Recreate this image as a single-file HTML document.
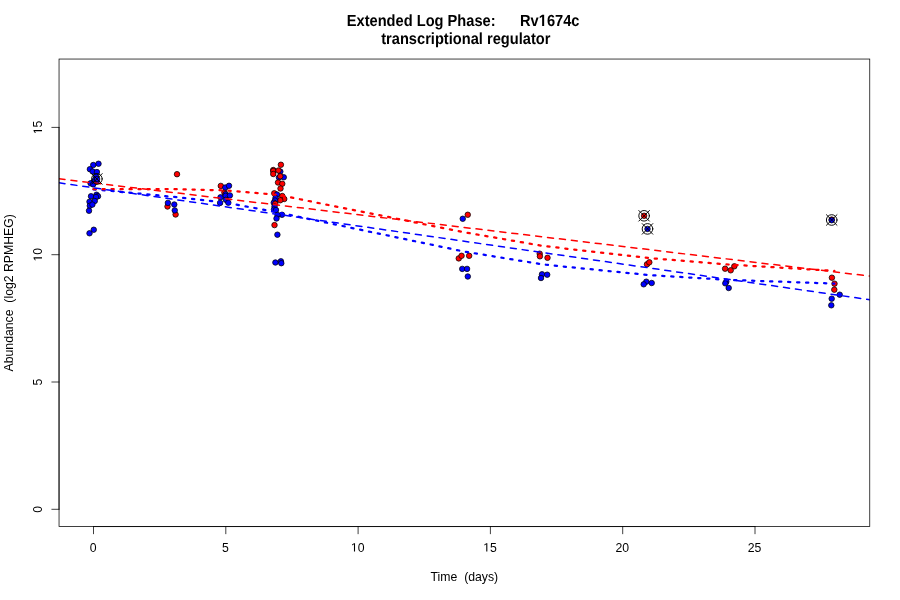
<!DOCTYPE html>
<html><head><meta charset="utf-8"><title>Rv1674c</title>
<style>html,body{margin:0;padding:0;background:#fff;}svg{display:block;will-change:transform;}text{font-family:"Liberation Sans",sans-serif;fill:#000;}</style></head><body>
<svg width="900" height="600" viewBox="0 0 900 600">
<rect x="0" y="0" width="900" height="600" fill="#fff"/>
<defs><clipPath id="pr"><rect x="59.04" y="59.04" width="810.72" height="467.52"/></clipPath></defs>
<g clip-path="url(#pr)" stroke="#000" stroke-width="0.75">
<circle cx="98.5" cy="163.75" r="2.75" fill="#0000ff"/>
<circle cx="93.25" cy="165" r="2.75" fill="#0000ff"/>
<circle cx="89.9" cy="169.2" r="2.75" fill="#0000ff"/>
<circle cx="92.7" cy="171.5" r="2.75" fill="#0000ff"/>
<circle cx="96.9" cy="172.1" r="2.75" fill="#0000ff"/>
<circle cx="96" cy="176.6" r="2.75" fill="#0000ff"/>
<circle cx="94.8" cy="180.2" r="2.75" fill="#0000ff"/>
<circle cx="96.5" cy="181.6" r="2.75" fill="#0000ff"/>
<circle cx="93.2" cy="182.4" r="2.75" fill="#0000ff"/>
<circle cx="90.6" cy="183.3" r="2.75" fill="#0000ff"/>
<circle cx="93.2" cy="184.4" r="2.75" fill="#0000ff"/>
<circle cx="97.1" cy="179" r="2.75" fill="#0000ff"/>
<circle cx="91" cy="196.25" r="2.75" fill="#0000ff"/>
<circle cx="96.5" cy="194.75" r="2.75" fill="#0000ff"/>
<circle cx="98" cy="196.25" r="2.75" fill="#0000ff"/>
<circle cx="96" cy="197" r="2.75" fill="#0000ff"/>
<circle cx="89.5" cy="201.75" r="2.75" fill="#0000ff"/>
<circle cx="94.75" cy="201" r="2.75" fill="#0000ff"/>
<circle cx="89.8" cy="205.8" r="2.75" fill="#0000ff"/>
<circle cx="92.4" cy="204.6" r="2.75" fill="#0000ff"/>
<circle cx="89" cy="210.75" r="2.75" fill="#0000ff"/>
<circle cx="93.75" cy="229.75" r="2.75" fill="#0000ff"/>
<circle cx="89.5" cy="233.25" r="2.75" fill="#0000ff"/>
<circle cx="177" cy="174.2" r="2.75" fill="#ff0000"/>
<circle cx="167.5" cy="206.5" r="2.75" fill="#ff0000"/>
<circle cx="167.9" cy="202.9" r="2.75" fill="#0000ff"/>
<circle cx="174.25" cy="204.5" r="2.75" fill="#0000ff"/>
<circle cx="175.6" cy="214.5" r="2.75" fill="#ff0000"/>
<circle cx="174.75" cy="210.4" r="2.75" fill="#0000ff"/>
<circle cx="224.4" cy="192.4" r="2.75" fill="#ff0000"/>
<circle cx="220.8" cy="185.9" r="2.75" fill="#ff0000"/>
<circle cx="225.3" cy="187.5" r="2.75" fill="#0000ff"/>
<circle cx="229" cy="185.8" r="2.75" fill="#0000ff"/>
<circle cx="225.6" cy="194.2" r="2.75" fill="#0000ff"/>
<circle cx="220.5" cy="197.3" r="2.75" fill="#0000ff"/>
<circle cx="225.7" cy="195.8" r="2.75" fill="#0000ff"/>
<circle cx="229.9" cy="195.4" r="2.75" fill="#0000ff"/>
<circle cx="225.9" cy="199.8" r="2.75" fill="#0000ff"/>
<circle cx="220.1" cy="202.9" r="2.75" fill="#0000ff"/>
<circle cx="228.3" cy="202.7" r="2.75" fill="#0000ff"/>
<circle cx="280.3" cy="171.6" r="2.75" fill="#0000ff"/>
<circle cx="283.75" cy="177.25" r="2.75" fill="#0000ff"/>
<circle cx="279" cy="177.5" r="2.75" fill="#0000ff"/>
<circle cx="280.9" cy="164.75" r="2.75" fill="#ff0000"/>
<circle cx="273.25" cy="170" r="2.75" fill="#ff0000"/>
<circle cx="273.25" cy="171" r="2.75" fill="#ff0000"/>
<circle cx="273.25" cy="174" r="2.75" fill="#ff0000"/>
<circle cx="278.5" cy="170.5" r="2.75" fill="#ff0000"/>
<circle cx="280.25" cy="176.25" r="2.75" fill="#ff0000"/>
<circle cx="278" cy="182.5" r="2.75" fill="#ff0000"/>
<circle cx="282.25" cy="183.75" r="2.75" fill="#ff0000"/>
<circle cx="280.5" cy="188.5" r="2.75" fill="#ff0000"/>
<circle cx="274.25" cy="193.25" r="2.75" fill="#ff0000"/>
<circle cx="277" cy="194.5" r="2.75" fill="#0000ff"/>
<circle cx="282.25" cy="196" r="2.75" fill="#ff0000"/>
<circle cx="284.25" cy="199" r="2.75" fill="#ff0000"/>
<circle cx="280.25" cy="200.25" r="2.75" fill="#ff0000"/>
<circle cx="275.5" cy="198" r="2.75" fill="#0000ff"/>
<circle cx="275" cy="200.5" r="2.75" fill="#0000ff"/>
<circle cx="273.75" cy="202.75" r="2.75" fill="#0000ff"/>
<circle cx="275.25" cy="203.75" r="2.75" fill="#ff0000"/>
<circle cx="274.5" cy="206.5" r="2.75" fill="#0000ff"/>
<circle cx="274" cy="209.5" r="2.75" fill="#0000ff"/>
<circle cx="276" cy="210" r="2.75" fill="#0000ff"/>
<circle cx="282" cy="214.75" r="2.75" fill="#0000ff"/>
<circle cx="277.5" cy="215" r="2.75" fill="#0000ff"/>
<circle cx="276.5" cy="218.5" r="2.75" fill="#0000ff"/>
<circle cx="274.5" cy="225.1" r="2.75" fill="#ff0000"/>
<circle cx="277.4" cy="234.7" r="2.75" fill="#0000ff"/>
<circle cx="275.4" cy="262.5" r="2.75" fill="#0000ff"/>
<circle cx="280.9" cy="261.3" r="2.75" fill="#0000ff"/>
<circle cx="281.3" cy="263.2" r="2.75" fill="#0000ff"/>
<circle cx="467.75" cy="214.75" r="2.75" fill="#ff0000"/>
<circle cx="462.75" cy="218.75" r="2.75" fill="#0000ff"/>
<circle cx="458.75" cy="258.4" r="2.75" fill="#ff0000"/>
<circle cx="461.55" cy="255.8" r="2.75" fill="#ff0000"/>
<circle cx="469.15" cy="255.8" r="2.75" fill="#ff0000"/>
<circle cx="462.25" cy="268.9" r="2.75" fill="#0000ff"/>
<circle cx="467.05" cy="268.9" r="2.75" fill="#0000ff"/>
<circle cx="467.8" cy="276.5" r="2.75" fill="#0000ff"/>
<circle cx="539.7" cy="253.7" r="2.75" fill="#ff0000"/>
<circle cx="539.9" cy="256.3" r="2.75" fill="#ff0000"/>
<circle cx="547.5" cy="257.8" r="2.75" fill="#ff0000"/>
<circle cx="542" cy="274.3" r="2.75" fill="#0000ff"/>
<circle cx="547.2" cy="274.7" r="2.75" fill="#0000ff"/>
<circle cx="541" cy="278" r="2.75" fill="#0000ff"/>
<circle cx="647" cy="264.3" r="2.75" fill="#ff0000"/>
<circle cx="649.3" cy="262.3" r="2.75" fill="#ff0000"/>
<circle cx="646.3" cy="281.7" r="2.75" fill="#0000ff"/>
<circle cx="643.7" cy="284.3" r="2.75" fill="#0000ff"/>
<circle cx="651.7" cy="283" r="2.75" fill="#0000ff"/>
<circle cx="644.1" cy="215.8" r="2.75" fill="#ff0000"/>
<circle cx="647.5" cy="228.9" r="2.75" fill="#0000ff"/>
<circle cx="734.3" cy="266.3" r="2.75" fill="#ff0000"/>
<circle cx="725.1" cy="268.7" r="2.75" fill="#ff0000"/>
<circle cx="730.7" cy="270.3" r="2.75" fill="#ff0000"/>
<circle cx="726.3" cy="281.7" r="2.75" fill="#0000ff"/>
<circle cx="725.3" cy="283.3" r="2.75" fill="#0000ff"/>
<circle cx="728.7" cy="288" r="2.75" fill="#0000ff"/>
<circle cx="831.9" cy="277.7" r="2.75" fill="#ff0000"/>
<circle cx="834.5" cy="283.7" r="2.75" fill="#ff0000"/>
<circle cx="834.3" cy="289.7" r="2.75" fill="#ff0000"/>
<circle cx="839.7" cy="294.7" r="2.75" fill="#0000ff"/>
<circle cx="831.7" cy="298.7" r="2.75" fill="#0000ff"/>
<circle cx="831.3" cy="305.3" r="2.75" fill="#0000ff"/>
<circle cx="831.7" cy="219.6" r="2.75" fill="#ff0000"/>
<circle cx="831.7" cy="220.2" r="2.75" fill="#0000ff"/>
</g>
<g clip-path="url(#pr)" fill="none" stroke-linecap="round" stroke-linejoin="round">
<polyline points="93.5,189.3 172.88,196.8 225.8,202.6 278.72,212.6 463.94,251.5 543.32,264.5 649.16,275.1 728.54,279.9 834.38,283.6" stroke="#0000ff" stroke-width="2.25" stroke-dasharray="2.25 6.75"/>
<polyline points="93.5,189.2 172.88,189.1 225.8,190.4 278.72,195 463.94,232.2 543.32,246 649.16,258.1 728.54,264.5 834.38,270.9" stroke="#ff0000" stroke-width="2.25" stroke-dasharray="2.25 6.75"/>
<line x1="59.04" y1="178.8" x2="869.76" y2="276.1" stroke="#ff0000" stroke-width="1.5" stroke-dasharray="6 6"/>
<line x1="59.04" y1="182.8" x2="869.76" y2="299.75" stroke="#0000ff" stroke-width="1.5" stroke-dasharray="6 6"/>
</g>
<g clip-path="url(#pr)" fill="none" stroke="#000" stroke-width="0.95" stroke-linecap="round">
<circle cx="96.9" cy="178.9" r="5.3"/>
<path d="M91.6 173.6L102.2 184.2M91.6 184.2L102.2 173.6"/>
<circle cx="644.1" cy="215.8" r="5.3"/>
<path d="M638.8 210.5L649.4 221.1M638.8 221.1L649.4 210.5"/>
<circle cx="647.5" cy="228.9" r="5.3"/>
<path d="M642.2 223.6L652.8 234.2M642.2 234.2L652.8 223.6"/>
<circle cx="831.7" cy="220" r="5.3"/>
<path d="M826.4 214.7L837 225.3M826.4 225.3L837 214.7"/>
</g>
<g fill="none" stroke="#000" stroke-width="0.75" stroke-linecap="round">
<rect x="59.04" y="59.04" width="810.72" height="467.52"/>
<path d="M93.5 526.56L755 526.56M93.5 526.56L93.5 533.76M225.8 526.56L225.8 533.76M358.1 526.56L358.1 533.76M490.4 526.56L490.4 533.76M622.7 526.56L622.7 533.76M755 526.56L755 533.76M59.04 509.3L59.04 127.4M59.04 509.3L51.84 509.3M59.04 382L51.84 382M59.04 254.7L51.84 254.7M59.04 127.4L51.84 127.4"/>
</g>
<g font-size="12.25" text-anchor="middle">
<g><text class="one" x="93.1" y="551.6">0</text></g>
<g><text class="one" x="225.4" y="551.6">5</text></g>
<g><text class="one" x="357.7" y="551.6">&#8199;0</text><path transform="translate(350.880 551.600) scale(0.005981 -0.005981)" d="M515 0L515 1237L197 1010L197 1180L530 1409L696 1409L696 0Z"/></g>
<g><text class="one" x="490" y="551.6">&#8199;5</text><path transform="translate(483.180 551.600) scale(0.005981 -0.005981)" d="M515 0L515 1237L197 1010L197 1180L530 1409L696 1409L696 0Z"/></g>
<g><text class="one" x="622.3" y="551.6">20</text></g>
<g><text class="one" x="754.6" y="551.6">25</text></g>
<g transform="translate(42,509.3) rotate(-90)"><text class="one" x="0" y="0">0</text></g>
<g transform="translate(42,382) rotate(-90)"><text class="one" x="0" y="0">5</text></g>
<g transform="translate(42,254.7) rotate(-90)"><text class="one" x="0" y="0">&#8199;0</text><path transform="translate(-6.820 0.000) scale(0.005981 -0.005981)" d="M515 0L515 1237L197 1010L197 1180L530 1409L696 1409L696 0Z"/></g>
<g transform="translate(42,127.4) rotate(-90)"><text class="one" x="0" y="0">&#8199;5</text><path transform="translate(-6.820 0.000) scale(0.005981 -0.005981)" d="M515 0L515 1237L197 1010L197 1180L530 1409L696 1409L696 0Z"/></g>
<text x="464.4" y="581">Time&#160; (days)</text>
<text transform="translate(12.7,292.8) rotate(-90)" x="0" y="0">Abundance&#160; (log2 RPMHEG)</text>
</g>
<g font-size="14.65" font-weight="bold" text-anchor="middle" style="text-rendering:geometricPrecision">
<g transform="translate(463.1 25.9) scale(1 1.1)"><text class="one bold" x="0" y="0" xml:space="preserve">Extended Log Phase:      Rv&#8199;674c</text><path transform="translate(75.625 0.000) scale(0.007153 -0.007153)" d="M478 0L478 1170L140 959L140 1180L493 1409L759 1409L759 0Z"/></g>
<g transform="translate(465.8 43.8) scale(1 1.1)"><text x="0" y="0">transcriptional regulator</text></g>
</g>
</svg></body></html>
